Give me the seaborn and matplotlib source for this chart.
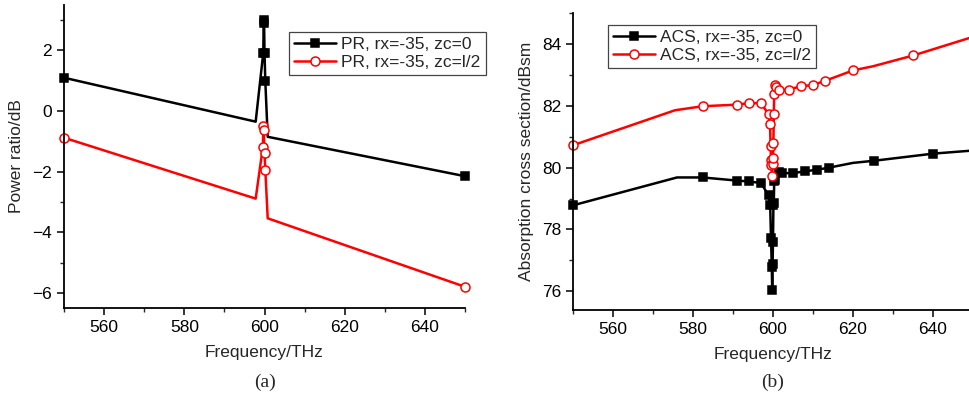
import matplotlib
matplotlib.use("Agg")
import matplotlib.pyplot as plt
import seaborn as sns
from matplotlib.ticker import MultipleLocator

# ---------------- data ----------------
# (a) Power ratio
pr0_freq = [550, 597.8, 599.7, 599.8, 599.9, 600.0, 600.2, 600.8, 650]
pr0_val = [1.1, -0.35, 1.93, 3.0, 2.9, 1.93, 0.99, -0.85, -2.15]
pr0_kinks = [1, 7]

prh_freq = [550, 597.8, 599.6, 599.7, 599.8, 600.0, 600.2, 600.8, 650]
prh_val = [-0.88, -2.89, -1.18, -0.5, -0.62, -1.37, -1.94, -3.54, -5.8]
prh_kinks = [1, 7]

# (b) Absorption cross section
acs0_freq = [550, 576, 582.4, 590.9, 594, 597, 598.9, 599.3, 599.5, 599.7, 599.8,
             599.9, 600.0, 600.1, 600.2, 600.3, 600.5, 601.6, 602.3, 605.1, 608,
             611.1, 614.1, 620, 625.3, 640.1, 650]
acs0_val = [78.78, 79.68, 79.68, 79.58, 79.55, 79.5, 79.1, 78.78, 77.72, 76.78, 76.03,
            76.9, 77.6, 78.78, 78.85, 79.55, 79.6, 79.86, 79.82, 79.82, 79.88,
            79.93, 80.0, 80.15, 80.22, 80.45, 80.55]
acs0_kinks = [1, 23, 26]

acsh_freq = [550, 575.5, 582.4, 590.9, 594, 597, 598.9, 599.25, 599.4, 599.5, 599.6,
             599.75, 599.9, 600.0, 600.1, 600.2, 600.3, 600.4, 600.7, 601.5, 604.1,
             607, 609.9, 613, 620.1, 625, 635.1, 650]
acsh_val = [80.72, 81.85, 81.98, 82.03, 82.08, 82.08, 81.72, 81.42, 80.68, 80.25, 80.08,
            79.72, 80.1, 80.3, 80.78, 81.72, 82.38, 82.65, 82.6, 82.5, 82.52,
            82.63, 82.66, 82.8, 83.14, 83.27, 83.62, 84.22]
acsh_kinks = [1, 25, 27]

labels_a = ["PR, rx=-35, zc=0", "PR, rx=-35, zc=l/2"]
labels_b = ["ACS, rx=-35, zc=0", "ACS, rx=-35, zc=l/2"]

# ---------------- style ----------------
sns.set_style("ticks")
plt.rcParams["font.family"] = ["Liberation Sans", "DejaVu Sans"]
plt.rcParams["font.size"] = 12.5

W, H = 969, 397
fig = plt.figure(figsize=(W / 100, H / 100), dpi=100)

axA = fig.add_axes([64 / W, (H - 308) / H, (465 - 64) / W, (308 - 5) / H])
axB = fig.add_axes([573 / W, (H - 310) / H, (973 - 573) / W, (310 - 12.7) / H])


def marks(n, kinks):
    return [i for i in range(n) if i not in kinks]


def draw(ax, fx, fy, kinks, color, marker, mfc, ms, label):
    sns.lineplot(x=fx, y=fy, ax=ax, sort=False, estimator=None, color=color,
                 lw=1.8, marker=marker, markersize=ms, markerfacecolor=mfc,
                 markeredgecolor=color, markeredgewidth=1.1,
                 markevery=marks(len(fx), kinks), label=label, clip_on=False)


draw(axA, pr0_freq, pr0_val, pr0_kinks, "black", "s", "black", 6, labels_a[0])
draw(axA, prh_freq, prh_val, prh_kinks, "#ff0000", "o", "white", 6.5, labels_a[1])
draw(axB, acs0_freq, acs0_val, acs0_kinks, "black", "s", "black", 6, labels_b[0])
draw(axB, acsh_freq, acsh_val, acsh_kinks, "#ff0000", "o", "white", 6.5, labels_b[1])

for ax in (axA, axB):
    sns.despine(ax=ax)
    ax.set_xlim(550, 650)
    ax.xaxis.set_minor_locator(MultipleLocator(10))
    ax.xaxis.set_ticks([560, 580, 600, 620, 640])
    ax.tick_params(axis="both", which="major", length=5, width=1.1, direction="out",
                   labelsize=12.5, colors="black", pad=3.5)
    ax.tick_params(axis="both", which="minor", length=3, width=1.0, direction="out")
    for s in ("left", "bottom"):
        ax.spines[s].set_linewidth(1.3)
        ax.spines[s].set_color("black")
    ax.set_xlabel("Frequency/THz", fontsize=12.5, labelpad=7)

axA.set_ylim(-6.5, 3.5)
axA.yaxis.set_major_locator(MultipleLocator(2))
axA.yaxis.set_minor_locator(MultipleLocator(1))
axA.set_ylabel("Power ratio/dB", fontsize=12.5, labelpad=6)

axB.set_ylim(75.4, 85)
axB.yaxis.set_major_locator(MultipleLocator(2))
axB.yaxis.set_minor_locator(MultipleLocator(1))
axB.set_ylabel("Absorption cross section/dBsm", fontsize=12.5, labelpad=6)


def legend(ax, x, y):
    leg = ax.legend(loc="upper left", bbox_to_anchor=(x / W, 1 - y / H),
                    bbox_transform=fig.transFigure, frameon=True, fancybox=False,
                    edgecolor="#444444", framealpha=1, fontsize=12.5,
                    handlelength=2.4, handletextpad=0.3, borderpad=0.3,
                    labelspacing=0.15, borderaxespad=0)
    leg.get_frame().set_linewidth(0.9)


legend(axA, 289, 32)
legend(axB, 608, 25)

fig.text(265 / W, 1 - 382 / H, "(a)", ha="center", va="center", fontsize=14,
         family=["Liberation Serif", "DejaVu Serif"])
fig.text(773 / W, 1 - 382 / H, "(b)", ha="center", va="center", fontsize=14,
         family=["Liberation Serif", "DejaVu Serif"])

fig.savefig("out.png", dpi=100)
